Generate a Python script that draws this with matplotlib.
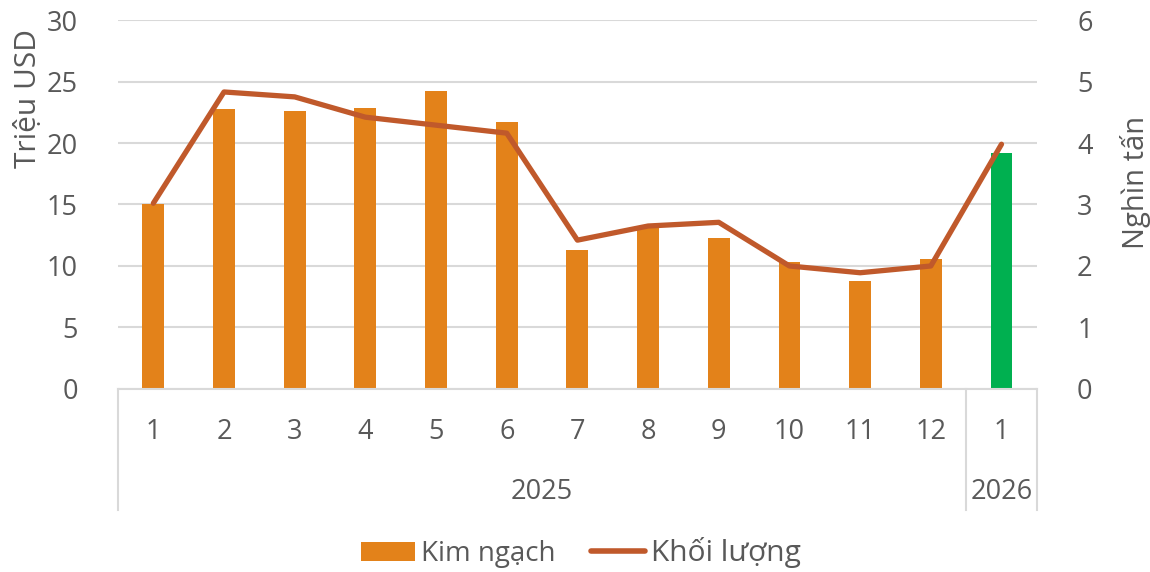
import matplotlib.pyplot as plt
from matplotlib.transforms import blended_transform_factory
from matplotlib.patches import Patch
from matplotlib.lines import Line2D

plt.rcParams['font.family'] = ['Open Sans', 'DejaVu Sans']

# data
months = ["1", "2", "3", "4", "5", "6", "7", "8", "9", "10", "11", "12", "1"]
years = ["2025", "2026"]
months_per_year = [12, 1]
kim_ngach = [15.0, 22.8, 22.6, 22.85, 24.2, 21.7, 11.3, 13.2, 12.25, 10.35, 8.8, 10.6, 19.2]
khoi_luong = [3.02, 4.83, 4.75, 4.42, 4.29, 4.16, 2.42, 2.65, 2.71, 2.0, 1.89, 2.0, 3.98]

ORANGE = "#E3821A"
GREEN = "#00B050"
LINE = "#C0592B"
TEXT = "#595959"
GRID = "#D9D9D9"

fig = plt.figure(figsize=(11.5, 5.72), dpi=100)
ax = fig.add_axes([0.1026, 0.320, 0.799, 0.645])
ax2 = ax.twinx()

x = list(range(len(months)))
colors = [ORANGE] * (len(months) - 1) + [GREEN]
ax.bar(x, kim_ngach, width=0.31, color=colors, zorder=2)
ax2.plot(x, khoi_luong, color=LINE, linewidth=3.8, solid_capstyle="round",
         solid_joinstyle="round", zorder=3)

ax.set_xlim(-0.5, len(months) - 0.5)
ax.set_ylim(0, 30)
ax2.set_ylim(0, 6)
ax.set_yticks(range(0, 31, 5))
ax2.set_yticks(range(0, 7))
ax.grid(True, axis="y", color=GRID, linewidth=1.5, zorder=0)
ax.set_axisbelow(True)

for a in (ax, ax2):
    for s in a.spines.values():
        s.set_visible(False)
    a.tick_params(length=0, labelsize=19.5, labelcolor=TEXT)
ax.tick_params(axis="y", pad=29)
ax2.tick_params(axis="y", pad=29)
ax.set_xticks([])

# multi-level category axis
trans = blended_transform_factory(ax.transData, ax.transAxes)
ax.plot([-0.5, len(months) - 0.5], [0, 0], color=GRID, lw=1.5, transform=trans, clip_on=False)
for i, m in enumerate(months):
    ax.text(i, -0.117, m, transform=trans, ha="center", va="center", fontsize=19.5, color=TEXT)
start = -0.5
edges = [start]
for y, n in zip(years, months_per_year):
    ax.text(start + n / 2, -0.28, y, transform=trans, ha="center", va="center",
            fontsize=19.5, color=TEXT)
    start += n
    edges.append(start)
for e in edges:
    ax.plot([e, e], [0, -0.328], color=GRID, lw=1.5, transform=trans, clip_on=False)

fig.text(0.025, 0.827, "Triệu USD", rotation=90, ha="center", va="center", fontsize=21.5, color=TEXT)
fig.text(0.987, 0.681, "Nghìn tấn", rotation=90, ha="center", va="center", fontsize=21, color=TEXT)

handles = [Patch(facecolor=ORANGE), Line2D([], [], color=LINE, lw=4, solid_capstyle="round")]
leg = fig.legend(handles, ["Kim ngạch", "Khối lượng"], loc="center", bbox_to_anchor=(0.505, 0.034),
                 ncol=2, frameon=False, fontsize=20, handlelength=1.95, handleheight=0.7,
                 columnspacing=1.3, handletextpad=0.2, labelcolor=TEXT)
leg.get_texts()[1].set_fontsize(21.5)

fig.savefig("out.png", dpi=100)
